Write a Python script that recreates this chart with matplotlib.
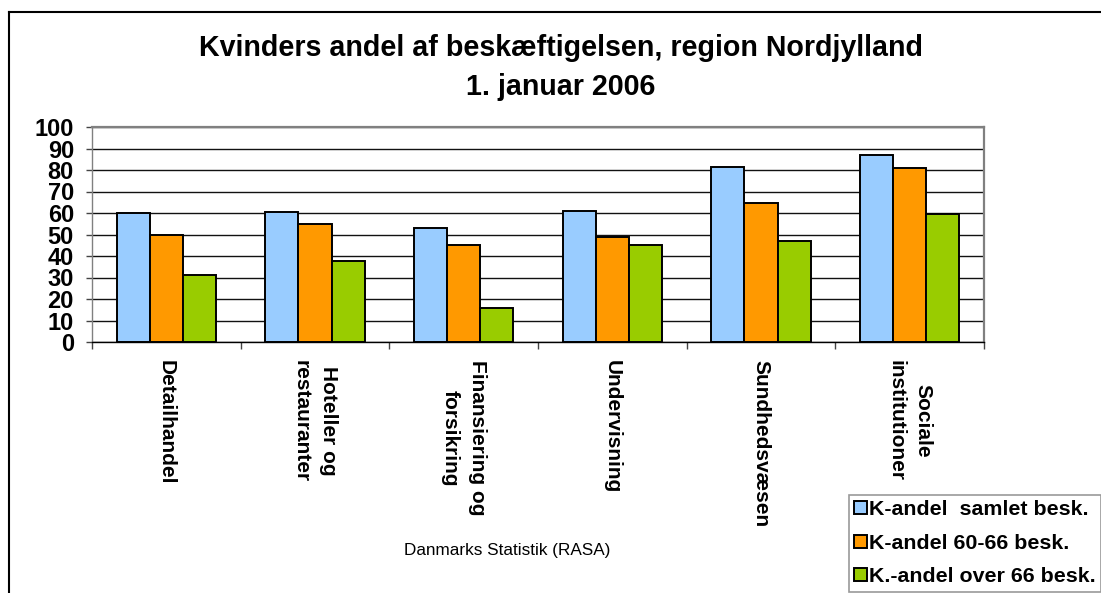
import numpy as np
import matplotlib as mpl
mpl.use("Agg")
import matplotlib.pyplot as plt
from matplotlib.lines import Line2D

plt.rcParams["font.family"] = ["Liberation Sans", "DejaVu Sans"]

categories = [
    "Detailhandel",
    "Hoteller og\nrestauranter",
    "Finansiering og\nforsikring",
    "Undervisning",
    "Sundhedsvæsen",
    "Sociale\ninstitutioner",
]
series_names = ["K-andel  samlet besk.", "K-andel 60-66 besk.", "K.-andel over 66 besk."]
k_samlet = [59.8, 60.3, 53.2, 60.8, 81.4, 87.2]
k_60_66 = [49.6, 54.7, 45.3, 48.7, 64.5, 81.1]
k_over_66 = [31.3, 37.9, 16.0, 45.0, 46.8, 59.4]
colors = ["#99CCFF", "#FF9900", "#99CC00"]
yticks = list(range(0, 101, 10))

W, H = 1101, 593
fig = plt.figure(figsize=(W / 100, H / 100), dpi=100, facecolor="white")
ax = fig.add_axes([92 / W, 1 - 342 / H, (984 - 92) / W, (342 - 127) / H])

x = np.arange(len(categories))
bw = 0.222
handles = []
for i, (vals, col, name) in enumerate(zip([k_samlet, k_60_66, k_over_66], colors, series_names)):
    b = ax.bar(x + (i - 1) * bw, vals, bw, color=col, edgecolor="black", linewidth=1.4,
               label=name, zorder=3)
    handles.append(b)

ax.set_xlim(-0.5, len(categories) - 0.5)
ax.set_ylim(0, 100)
ax.set_yticks(yticks)
ax.set_yticklabels([str(v) for v in yticks], fontsize=17, fontweight="bold")
ax.yaxis.grid(True, color="#111111", linewidth=1, zorder=0)
ax.set_axisbelow(True)

ax.set_xticks(x)
ax.set_xticklabels(categories, rotation=-90, fontsize=15, fontweight="bold",
                   va="top", ha="center", multialignment="center", linespacing=1.55)
ax.tick_params(axis="x", which="major", length=0, pad=13)
ax.set_xticks(np.arange(-0.5, len(categories), 1), minor=True)
ax.tick_params(axis="x", which="minor", length=5, width=1, color="#444444", direction="out")
ax.tick_params(axis="y", length=4, width=1, color="#444444", direction="out", pad=9)

for side in ["top", "right", "left"]:
    ax.spines[side].set_color("#808080")
    ax.spines[side].set_linewidth(1.6)
ax.spines["left"].set_linewidth(1.0)
ax.spines["bottom"].set_color("black")
ax.spines["bottom"].set_linewidth(1.0)

fig.text(561 / W, 1 - 34 / H, "Kvinders andel af beskæftigelsen, region Nordjylland\n1. januar 2006",
         ha="center", va="top", fontsize=20.6, fontweight="bold", linespacing=1.48)

fig.text(507 / W, 1 - 550 / H, "Danmarks Statistik (RASA)", ha="center", va="center", fontsize=12.3)

leg = fig.legend(handles=handles, loc="upper left", bbox_to_anchor=(849 / W, 1 - 495 / H),
                 bbox_transform=fig.transFigure, prop={"weight": "bold", "size": 15.4},
                 frameon=True, fancybox=False, borderpad=0.25, borderaxespad=0,
                 handlelength=0.57, handleheight=0.57, handletextpad=0.12, labelspacing=0.68)
leg.get_frame().set_edgecolor("#808080")
leg.get_frame().set_linewidth(1.2)

# outer chart border (left and top edges visible)
fig.add_artist(Line2D([9 / W, 9 / W], [0, 1 - 12 / H], color="black", linewidth=1.5,
                      transform=fig.transFigure))
fig.add_artist(Line2D([9 / W, 1], [1 - 12 / H, 1 - 12 / H], color="black", linewidth=1.5,
                      transform=fig.transFigure))

fig.savefig("out.png", dpi=100, facecolor="white")
